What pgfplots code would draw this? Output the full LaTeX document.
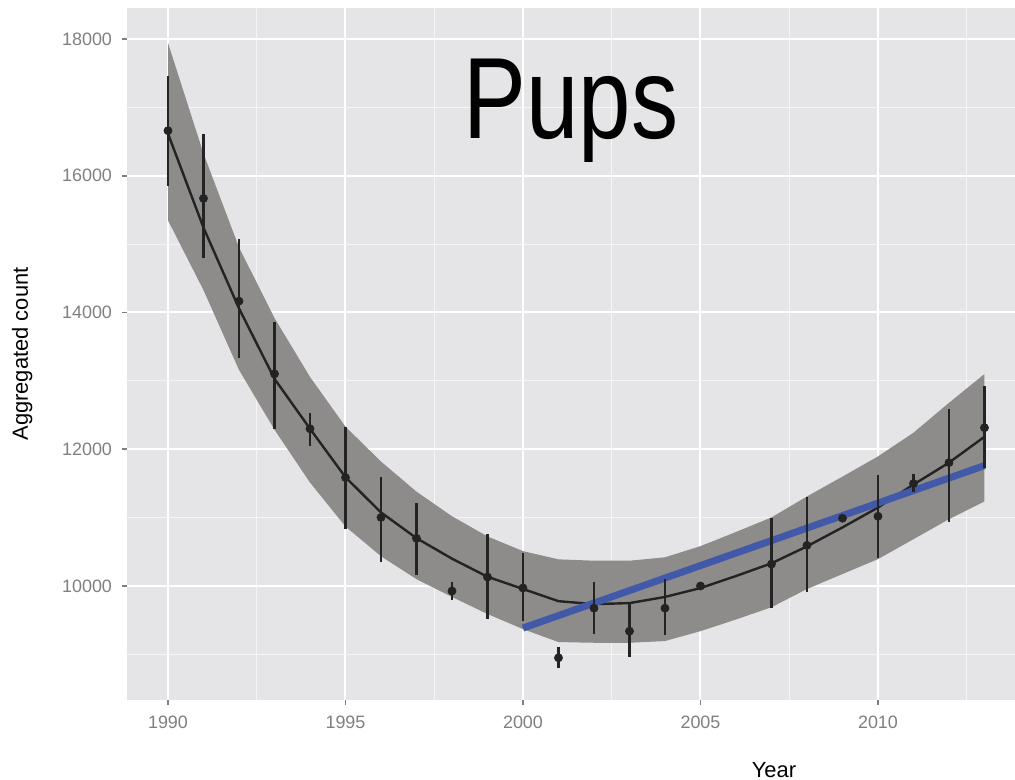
\documentclass[border=0pt]{standalone}
\usepackage{fontspec}
\setmainfont{Liberation Sans}
\usepackage{pgfplots}
\usepackage{pgfplotstable}
\pgfplotsset{compat=1.18}
\usepgfplotslibrary{fillbetween}

\definecolor{panelbg}{RGB}{229,229,231}
\definecolor{ribbon}{RGB}{141,140,138}
\definecolor{ink}{RGB}{35,35,35}
\definecolor{fitblue}{RGB}{66,89,170}
\definecolor{tickgray}{RGB}{127,127,127}

% yearly counts with error bars (plus / minus)
\pgfplotstableread{
yr   n     ep   em
1990 16659 802  802
1991 15668 947  875
1992 14166 904  831
1993 13102 758  802
1994 12300 234  248
1995 11586 744  758
1996 11003 597  653
1997 10697 523  537
1998 9927  131  131
1999 10131 627  613
2000 9971  510  481
2001 8950  160  148
2002 9676  382  376
2003 9340  395  378
2004 9676  426  391
2005 10000 50   50
2007 10321 670  645
2008 10595 700  685
2009 10991 40   40
2010 11020 598  615
2011 11498 135  128
2012 11804 788  874
2013 12315 612  583
}\pups

% smoother with its band
\pgfplotstableread{
yr   fit   lo    hi
1990 16615 15347 17942
1991 15240 14327 16324
1992 14060 13160 14953
1993 13030 12286 13918
1994 12300 11513 13058
1995 11590 10870 12330
1996 11076 10435 11820
1997 10700 10100 11380
1998 10400 9840  11020
1999 10135 9590  10725
2000 9957  9370  10510
2001 9778  9180  10390
2002 9735  9170  10370
2003 9750  9170  10370
2004 9840  9195  10420
2005 9970  9340  10583
2006 10146 9510  10790
2007 10332 9690  11003
2008 10580 9956  11310
2009 10857 10175 11600
2010 11148 10393 11895
2011 11484 10685 12242
2012 11804 10977 12679
2013 12183 11236 13100
}\smooth

\begin{document}
\begin{tikzpicture}
\begin{axis}[
    at={(63.5bp,40bp)}, anchor=south west,
    width=444bp, height=346bp, scale only axis,
    xmin=1988.845, xmax=2013.86, ymin=8333, ymax=18453,
    axis background/.style={fill=panelbg},
    axis line style={draw=none},
    xtick pos=bottom, ytick pos=left,
    xtick={1990,1995,...,2010},
    ytick={10000,12000,...,18000},
    scaled y ticks=false,
    minor xtick={1992.5,1997.5,2002.5,2007.5,2012.5},
    minor ytick={9000,11000,...,17000},
    grid=both,
    major grid style={white, line width=1bp},
    minor grid style={white!60!panelbg, line width=0.5bp},
    tick align=outside,
    major tick length=2.5bp, minor tick length=0pt,
    major tick style={tickgray, line width=0.9bp},
    /pgf/number format/assume math mode=true,
    /pgf/number format/1000 sep={},
    ticklabel style={font=\fontsize{9}{10}\selectfont, text=tickgray},
    xticklabel style={yshift=-2bp},
    yticklabel style={xshift=-1.5bp},
    xlabel={Year},
    ylabel={Aggregated count},
    label style={font=\fontsize{11}{12}\selectfont},
    xlabel style={at={(axis description cs:0.7286,-0.1127)}, anchor=base},
    ylabel style={at={(axis description cs:-0.118,0.5)}, anchor=center},
]
\addplot[name path=top, draw=none, forget plot] table[x=yr, y=hi] {\smooth};
\addplot[name path=bot, draw=none, forget plot] table[x=yr, y=lo] {\smooth};
\addplot[fill=ribbon, draw=none] fill between[of=top and bot];
\addplot[ink, line width=1.2bp] table[x=yr, y=fit] {\smooth};
\addplot[fitblue, line width=3.5bp] coordinates {(2000,9385) (2013,11761)};
\addplot[ink, only marks, mark=*, mark size=2bp,
    error bars/.cd, y dir=both, y explicit,
    error bar style={line width=1.4bp, ink}, error mark=none]
    table[x=yr, y=n, y error plus=ep, y error minus=em] {\pups};
\node[anchor=base, xscale=0.815, font=\fontsize{58}{60}\selectfont] at (rel axis cs:0.5,0.812) {Pups};
\end{axis}
\pgfresetboundingbox
\useasboundingbox (0,0) rectangle (507.5bp,390bp);
\end{tikzpicture}
\end{document}
